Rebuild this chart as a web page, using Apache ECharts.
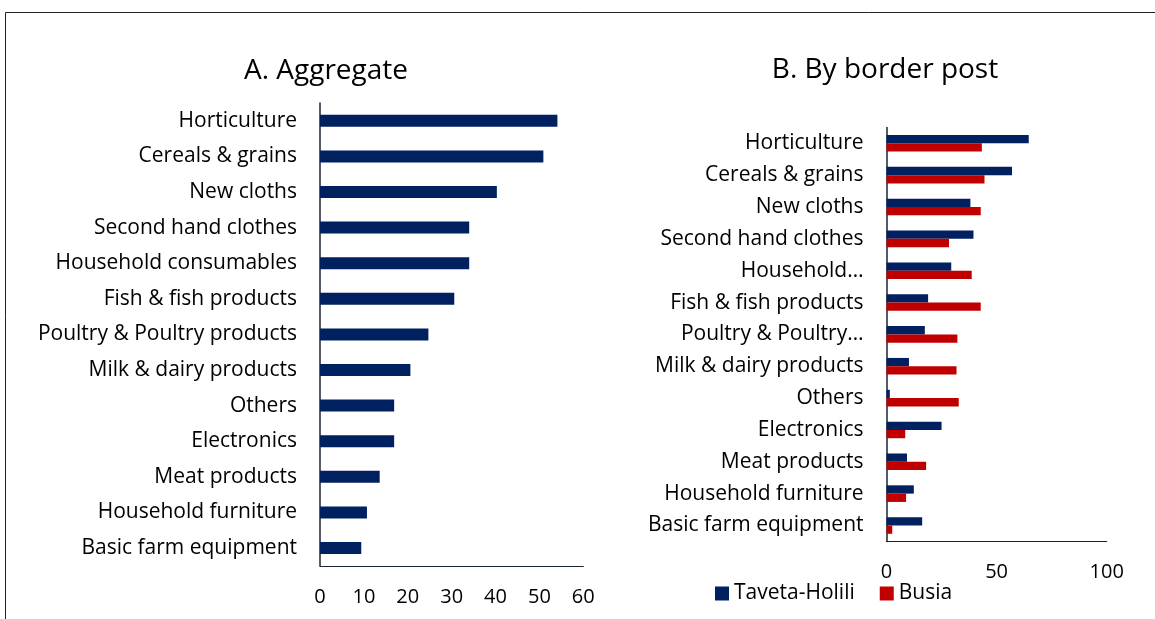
<!DOCTYPE html>
<html>
<head>
<meta charset="utf-8">
<script src="https://cdn.jsdelivr.net/npm/echarts@6/dist/echarts.min.js"></script>
<style>
html,body{margin:0;padding:0;background:#fff;}
#chart{width:1155px;height:619px;}
</style>
</head>
<body>
<div id="chart"></div>
<script>
const categories = ["Horticulture","Cereals & grains","New cloths","Second hand clothes","Household consumables","Fish & fish products","Poultry & Poultry products","Milk & dairy products","Others","Electronics","Meat products","Household furniture","Basic farm equipment"];
const rightLabels = ["Horticulture","Cereals & grains","New cloths","Second hand clothes","Household…","Fish & fish products","Poultry & Poultry…","Milk & dairy products","Others","Electronics","Meat products","Household furniture","Basic farm equipment"];
const aggregate = [54.1,50.9,40.3,34.0,34.0,30.6,24.7,20.6,16.9,16.9,13.6,10.7,9.4];
const tavetaHolili = [64.6,57.0,38.1,39.5,29.4,18.9,17.4,10.2,1.5,25.0,9.3,12.4,16.2];
const busia = [43.3,44.5,42.8,28.4,38.7,42.8,32.2,31.8,32.8,8.5,18.0,8.9,2.6];
const leftTicks = [0,10,20,30,40,50,60];
const rightTicks = [0,50,100];
const titles = ["A. Aggregate","B. By border post"];
const seriesNames = ["Taveta-Holili","Busia"];

const FONT = "'Open Sans', Lato, sans-serif";
const NAVY = '#002060', RED = '#C00000', AXIS = '#1c2533';

const chart = echarts.init(document.getElementById('chart'), null, {renderer:'canvas'});
chart.setOption({
  animation:false,
  textStyle:{fontFamily:FONT},
  graphic:[{type:'rect', shape:{x:5.5,y:12.5,width:1300,height:800}, style:{fill:'none',stroke:'#222',lineWidth:1}, silent:true}],
  title:[
    {text:titles[0], left:321, top:52, textAlign:'center', textStyle:{fontFamily:FONT,fontSize:28,fontWeight:'normal',color:'#000'}},
    {text:titles[1], left:880, top:51, textAlign:'center', textStyle:{fontFamily:FONT,fontSize:28,fontWeight:'normal',color:'#000'}}
  ],
  legend:{data:seriesNames, left:715, top:583, padding:0, itemWidth:14, itemHeight:14, itemGap:25, icon:'rect',
    textStyle:{fontFamily:FONT,fontSize:21,color:'#000'}},
  grid:[
    {left:320, top:103, width:263.3, height:462.8},
    {left:886.5, top:127.4, width:220.2, height:414}
  ],
  xAxis:[
    {gridIndex:0, type:'value', min:leftTicks[0], max:leftTicks[leftTicks.length-1], interval:10,
      axisLine:{show:true,lineStyle:{color:AXIS,width:1.2}}, axisTick:{show:false}, splitLine:{show:false},
      axisLabel:{fontFamily:FONT,fontSize:20,color:'#000',margin:21}},
    {gridIndex:1, type:'value', min:rightTicks[0], max:rightTicks[rightTicks.length-1], interval:50,
      axisLine:{show:true,lineStyle:{color:AXIS,width:1.2}}, axisTick:{show:false}, splitLine:{show:false},
      axisLabel:{fontFamily:FONT,fontSize:20,color:'#000',margin:21}}
  ],
  yAxis:[
    {gridIndex:0, type:'category', data:categories, inverse:true,
      axisLine:{show:true,lineStyle:{color:AXIS,width:1.5}}, axisTick:{show:false},
      axisLabel:{fontFamily:FONT,fontSize:21,color:'#000',margin:23}},
    {gridIndex:1, type:'category', data:rightLabels, inverse:true,
      axisLine:{show:true,lineStyle:{color:AXIS,width:1.5}}, axisTick:{show:false},
      axisLabel:{fontFamily:FONT,fontSize:21,color:'#000',margin:23}}
  ],
  series:[
    {type:'bar', name:'Aggregate', xAxisIndex:0, yAxisIndex:0, data:aggregate, barWidth:12, itemStyle:{color:NAVY}},
    {type:'bar', name:seriesNames[0], xAxisIndex:1, yAxisIndex:1, data:tavetaHolili, barWidth:8.3, barGap:'0%', itemStyle:{color:NAVY}},
    {type:'bar', name:seriesNames[1], xAxisIndex:1, yAxisIndex:1, data:busia, barWidth:8.3, barGap:'0%', itemStyle:{color:RED}}
  ]
});
</script>
</body>
</html>
